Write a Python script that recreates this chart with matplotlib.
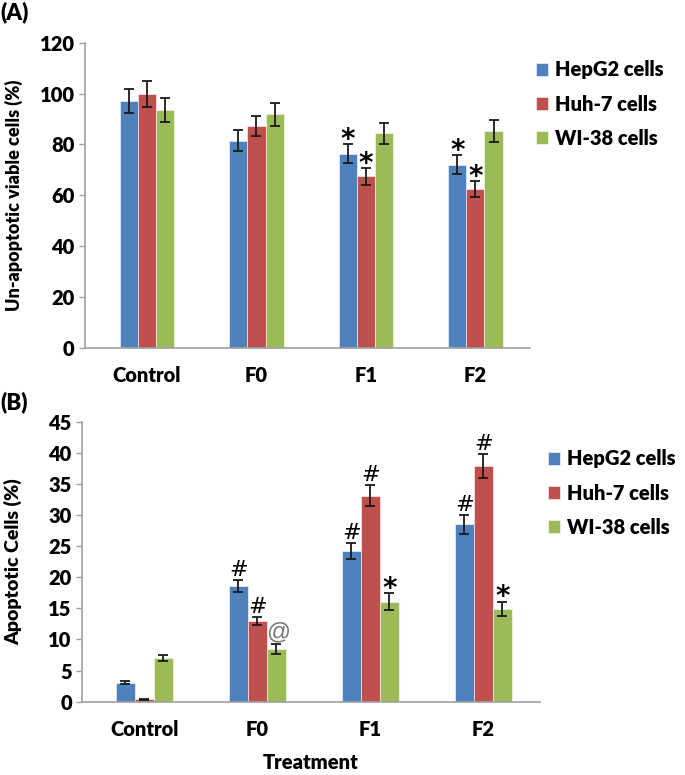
import matplotlib
matplotlib.use("Agg")
import matplotlib.pyplot as plt
import numpy as np

plt.rcParams['font.family'] = ['Lato', 'DejaVu Sans']
W = 'heavy'
plt.rcParams['font.weight'] = W

categories = ["Control", "F0", "F1", "F2"]
series = ["HepG2 cells", "Huh-7 cells", "WI-38 cells"]
colors = ["#4F81BD", "#C0504D", "#9BBB59"]

# Panel A: un-apoptotic viable cells (%)
a_hepg2 = [97.0, 81.4, 76.3, 72.1]
a_huh7 = [99.9, 87.2, 67.4, 62.6]
a_wi38 = [93.4, 91.9, 84.3, 85.2]
a_hepg2_err = [4.7, 4.1, 3.8, 3.6]
a_huh7_err = [5.1, 3.9, 3.3, 3.1]
a_wi38_err = [4.7, 4.5, 4.3, 4.3]
a_marks = [["", "", "*", "*"], ["", "", "*", "*"], ["", "", "", ""]]

# Panel B: apoptotic cells (%)
b_hepg2 = [3.05, 18.6, 24.2, 28.5]
b_huh7 = [0.37, 13.0, 33.1, 37.9]
b_wi38 = [6.96, 8.5, 16.1, 14.9]
b_hepg2_err = [0.2, 1.0, 1.3, 1.5]
b_huh7_err = [0.1, 0.6, 1.7, 1.9]
b_wi38_err = [0.5, 0.85, 1.4, 1.2]
b_marks = [["", "#", "#", "#"], ["", "#", "#", "#"], ["", "@", "*", "*"]]

fig = plt.figure(figsize=(6.85, 7.75), dpi=100)

def draw(ax, vals, errs, marks, ylim, yticks, ylabel, ylabel_fs, width, xlim, legend_pos):
    x = np.arange(len(categories))
    handles = []
    for i, (v, e, c) in enumerate(zip(vals, errs, colors)):
        xs = x + (i - 1) * width
        b = ax.bar(xs, v, width=width, color=c, edgecolor='white', linewidth=0.4,
                   yerr=e, capsize=3.5, error_kw=dict(ecolor='#1a1a1a', elinewidth=1.3, capthick=1.3),
                   label=series[i], zorder=2)
        handles.append(b)
        for xx, vv, ee, m in zip(xs, v, e, marks[i]):
            if m:
                col = '#777777' if m == '@' else 'black'
                if m == '*':
                    ax.annotate(m, (xx, vv + ee), xytext=(0, -7), textcoords='offset points',
                                ha='center', va='bottom', fontsize=20, color=col,
                                fontweight='bold', family='DejaVu Sans')
                elif m == '#':
                    ax.annotate(m, (xx, vv + ee), xytext=(0, 0), textcoords='offset points',
                                ha='center', va='bottom', fontsize=16, color=col,
                                fontweight='normal', family='DejaVu Sans')
                else:
                    ax.annotate(m, (xx, vv + ee), xytext=(1.5, 0), textcoords='offset points',
                                ha='center', va='bottom', fontsize=17, color=col,
                                fontweight='normal', family='Liberation Sans')
    ax.set_xlim(*xlim)
    ax.set_ylim(*ylim)
    ax.set_yticks(yticks)
    ax.set_xticks(x)
    ax.set_xticklabels(categories, fontsize=14.5, fontweight=W)
    ax.tick_params(axis='y', labelsize=14.5, length=4, color='#A0A0A0', direction='out', width=1)
    ax.tick_params(axis='x', length=0, pad=13)
    for lab in ax.get_yticklabels():
        lab.set_fontweight(W)
    for s in ['top', 'right']:
        ax.spines[s].set_visible(False)
    for s in ['left', 'bottom']:
        ax.spines[s].set_color('#A0A0A0')
        ax.spines[s].set_linewidth(1.2)
    ax.set_ylabel(ylabel, fontsize=ylabel_fs, fontweight=W)
    leg = fig.legend(handles=handles, loc='upper left', bbox_to_anchor=legend_pos, frameon=False,
                     fontsize=14.5, handlelength=0.6, handleheight=0.6, handletextpad=0.35,
                     labelspacing=0.75, borderaxespad=0, borderpad=0)
    for t in leg.get_texts():
        t.set_fontweight(W)

axA = fig.add_axes([0.124, 0.551, 0.650, 0.394])
draw(axA, [a_hepg2, a_huh7, a_wi38], [a_hepg2_err, a_huh7_err, a_wi38_err], a_marks,
     (0, 120), np.arange(0, 121, 20), "Un-apoptotic viable cells (%)", 13, 0.165, (-0.567, 3.5),
     (0.782, 0.922))
axA.yaxis.set_label_coords(-0.14, 0.5)

axB = fig.add_axes([0.120, 0.0946, 0.668, 0.3612])
draw(axB, [b_hepg2, b_huh7, b_wi38], [b_hepg2_err, b_huh7_err, b_wi38_err], b_marks,
     (0, 45), np.arange(0, 46, 5), "Apoptotic Cells (%)", 14, 0.168, (-0.55, 3.5),
     (0.800, 0.420))
axB.set_xlabel("Treatment", fontsize=14.5, fontweight=W, labelpad=10)
axB.yaxis.set_label_coords(-0.13, 0.5)

fig.text(0.0, 0.998, "(A)", fontsize=16, fontweight=W, va='top', ha='left')
fig.text(0.0, 0.495, "(B)", fontsize=16, fontweight=W, va='top', ha='left')

fig.savefig("out.png", dpi=100)
